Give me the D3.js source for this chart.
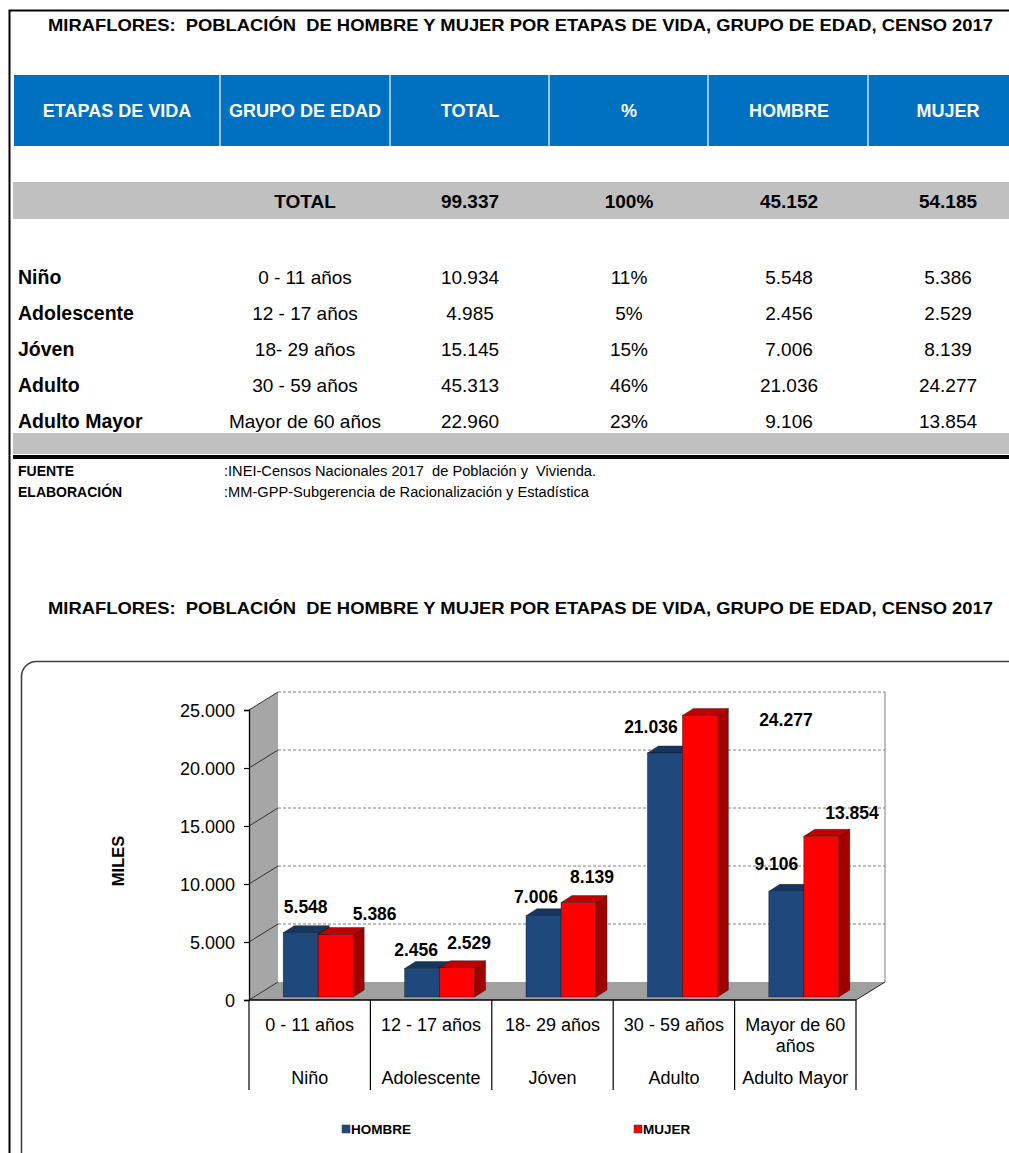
<!DOCTYPE html>
<html><head><meta charset="utf-8">
<script src="https://cdn.jsdelivr.net/npm/d3@7"></script>
<style>
body{margin:0;background:#fff}
svg{display:block}
text{font-family:"Liberation Sans",Arial,Helvetica,sans-serif;white-space:pre}
</style>
</head><body>
<svg id="c" width="1009" height="1153"></svg>
<script>
// ---------------- DATA ----------------
const titulo = "MIRAFLORES:  POBLACIÓN  DE HOMBRE Y MUJER POR ETAPAS DE VIDA, GRUPO DE EDAD, CENSO 2017";
const encabezados = ["ETAPAS DE VIDA","GRUPO DE EDAD","TOTAL","%","HOMBRE","MUJER"];
const etapas = ["Niño","Adolescente","Jóven","Adulto","Adulto Mayor"];
const grupos = ["0 - 11 años","12 - 17 años","18- 29 años","30 - 59 años","Mayor de 60 años"];
const gruposEje = [["0 - 11 años"],["12 - 17 años"],["18- 29 años"],["30 - 59 años"],["Mayor de 60","años"]];
const totales = [10934,4985,15145,45313,22960];
const porcentajes = [11,5,15,46,23];
const hombre = [5548,2456,7006,21036,9106];
const mujer = [5386,2529,8139,24277,13854];
const totalGeneral = [99337,100,45152,54185];
const series = ["HOMBRE","MUJER"];
const yTicks = [0,5000,10000,15000,20000,25000];
const fuente = [["FUENTE",":INEI-Censos Nacionales 2017  de Población y  Vivienda."],
                ["ELABORACIÓN",":MM-GPP-Subgerencia de Racionalización y Estadística"]];
const ejeY = "MILES";

// ---------------- LAYOUT / STYLE ----------------
const loc = d3.formatLocale({decimal:",",thousands:".",grouping:[3],currency:["",""]});
const fmt = loc.format(",d");
const FONT = '"Liberation Sans",Arial,Helvetica,sans-serif';
const colX = [18,305,470,629,789,948];
const sepX = [220,390,549,708,868];
// manual label nudges (Excel-style data label placement), px offsets from bar top centre
const hNudge = [[5,-25.6],[-6,-18.5],[-7.5,-18.7],[-14,-26],[-10,-27.4]];
const mNudge = [[39,-20.5],[12,-24.7],[13.5,-25.6],[86,4.6],[30.7,-24]];
const colors = {
  HOMBRE:{front:"#1F497D",top:"#16365F",side:"#132C4E"},
  MUJER:{front:"#FF0000",top:"#C00000",side:"#A00000"}
};

const svg = d3.select("#c");

// page frame
svg.append("path").attr("d","M9.5 1160 V10.5 H1015").attr("fill","none").attr("stroke","#000").attr("stroke-width",2);

// title 1
svg.append("text").attr("x",520.5).attr("y",31).attr("text-anchor","middle")
  .attr("font-size",16.5).attr("font-weight","bold").attr("textLength",945).attr("lengthAdjust","spacingAndGlyphs")
  .text(titulo);

// header band
svg.append("rect").attr("x",14).attr("y",75).attr("width",1000).attr("height",71).attr("fill","#0070C0");
sepX.forEach(x=>svg.append("line").attr("x1",x).attr("x2",x).attr("y1",75).attr("y2",146).attr("stroke","#fff").attr("stroke-width",1.2));
encabezados.forEach((h,i)=>{
  svg.append("text").attr("x",i===0?117:colX[i]).attr("y",116.5).attr("text-anchor","middle")
    .attr("fill","#fff").attr("font-weight","bold").attr("font-size",18).text(h);
});

// total row
svg.append("rect").attr("x",13).attr("y",182).attr("width",1000).attr("height",37).attr("fill","#C0C0C0");
svg.append("text").attr("x",colX[1]).attr("y",207.5).attr("text-anchor","middle").attr("font-weight","bold").attr("font-size",19).text("TOTAL");
totalGeneral.forEach((v,i)=>{
  svg.append("text").attr("x",colX[i+2]).attr("y",207.5).attr("text-anchor","middle").attr("font-weight","bold").attr("font-size",19)
    .text(i===1? v+"%" : fmt(v));
});

// body rows
const rowY = d3.scalePoint().domain(etapas).range([277,421]);
etapas.forEach((e,i)=>{
  const y = rowY(e)+7;
  svg.append("text").attr("x",colX[0]).attr("y",y).attr("font-weight","bold").attr("font-size",19.5).text(e);
  const vals = [grupos[i], fmt(totales[i]), porcentajes[i]+"%", fmt(hombre[i]), fmt(mujer[i])];
  vals.forEach((v,j)=>svg.append("text").attr("x",colX[j+1]).attr("y",y).attr("text-anchor","middle").attr("font-size",19).text(v));
});
svg.append("rect").attr("x",13).attr("y",433).attr("width",1000).attr("height",21).attr("fill","#C0C0C0");
svg.append("rect").attr("x",13).attr("y",455).attr("width",1000).attr("height",4).attr("fill","#000");

// source
fuente.forEach((f,i)=>{
  const y = 475.5+i*21.5;
  svg.append("text").attr("x",18).attr("y",y).attr("font-weight","bold").attr("font-size",14).text(f[0]);
  svg.append("text").attr("x",224).attr("y",y).attr("font-size",14)
    .attr("textLength",i===0?372:365).attr("lengthAdjust","spacingAndGlyphs").text(f[1]);
});

// title 2
svg.append("text").attr("x",520.5).attr("y",614).attr("text-anchor","middle")
  .attr("font-size",16.5).attr("font-weight","bold").attr("textLength",945).attr("lengthAdjust","spacingAndGlyphs")
  .text(titulo);

// chart box
svg.append("path").attr("d","M21.5 1160 V676 A15 15 0 0 1 36.5 661.5 H1015").attr("fill","none").attr("stroke","#404040").attr("stroke-width",1.6);

// ---------------- 3D BAR CHART ----------------
const x0 = d3.scaleBand().domain(etapas).range([249,856]);
const y = d3.scaleLinear().domain([0,25000]).range([1000,710]);
const DX = 29, DY = -18;        // wall depth
const BDX = 11, BDY = -7;       // bar depth
const BW = 35, SHIFT = 8.5, SET = 3;
const xs = d3.scaleBand().domain(series).range([-BW, BW]);
const xL = x0.range()[0], xR = x0.range()[1];
const y0 = y(0), yTop = y(25000);

// back wall
svg.append("rect").attr("x",xL+DX).attr("y",yTop+DY).attr("width",xR-xL).attr("height",y0-yTop).attr("fill","#fff");
svg.append("line").attr("x1",xR+DX).attr("x2",xR+DX).attr("y1",yTop+DY).attr("y2",y0+DY).attr("stroke","#BFBFBF").attr("stroke-width",2);
// side wall
svg.append("polygon").attr("points",[[xL,y0],[xL,yTop],[xL+DX,yTop+DY],[xL+DX,y0+DY]].join(" ")).attr("fill","#A6A6A6");
// floor
svg.append("polygon").attr("points",[[xL,y0],[xR,y0],[xR+DX,y0+DY],[xL+DX,y0+DY]].join(" ")).attr("fill","#A0A0A0");
svg.append("line").attr("x1",xR).attr("y1",y0).attr("x2",xR+DX).attr("y2",y0+DY).attr("stroke","#222").attr("stroke-width",1);
// gridlines
yTicks.filter(t=>t>0).forEach(t=>{
  svg.append("line").attr("x1",xL+DX).attr("x2",xR+DX).attr("y1",y(t)+DY).attr("y2",y(t)+DY)
    .attr("stroke","#7F7F7F").attr("stroke-width",1).attr("stroke-dasharray","3,2");
});
yTicks.forEach(t=>{
  svg.append("line").attr("x1",xL).attr("y1",y(t)).attr("x2",xL+DX).attr("y2",y(t)+DY).attr("stroke","#333").attr("stroke-width",1);
});

// y axis
const yAxis = d3.axisLeft(y).tickValues(yTicks).tickSize(5).tickPadding(9).tickFormat(d=>fmt(d));
const gy = svg.append("g").attr("transform",`translate(${xL},0)`).call(yAxis);
gy.select(".domain").attr("stroke","#000").attr("stroke-width",1.3);
gy.selectAll(".tick line").attr("stroke","#000").attr("stroke-width",1.2);
gy.selectAll("text").attr("font-family",FONT).attr("font-size",18).attr("fill","#000").attr("dy","0.35em");

// x axis line and separators
svg.append("line").attr("x1",xL).attr("x2",xR).attr("y1",y0).attr("y2",y0).attr("stroke","#000").attr("stroke-width",1.3);
etapas.forEach((e,i)=>{
  const bx = x0(e);
  svg.append("line").attr("x1",bx).attr("x2",bx).attr("y1",y0).attr("y2",1090).attr("stroke","#000").attr("stroke-width",1.2);
  if(i===etapas.length-1) svg.append("line").attr("x1",bx+x0.bandwidth()).attr("x2",bx+x0.bandwidth()).attr("y1",y0).attr("y2",1090).attr("stroke","#000").attr("stroke-width",1.2);
  const cx = bx + x0.bandwidth()/2;
  gruposEje[i].forEach((g,k)=>svg.append("text").attr("x",cx).attr("y",1031+k*21).attr("text-anchor","middle").attr("font-size",18).text(g));
  svg.append("text").attr("x",cx).attr("y",1084).attr("text-anchor","middle").attr("font-size",18).text(e);
});

// bars
const barData = [];
etapas.forEach((e,i)=>{
  series.forEach(s=>{
    const v = s==="HOMBRE"?hombre[i]:mujer[i];
    barData.push({e,i,s,v});
  });
});
const gb = svg.append("g");
barData.forEach(d=>{
  const c = colors[d.s];
  const xf = x0(d.e) + x0.bandwidth()/2 + SHIFT + xs(d.s);
  const yt = y(d.v) - SET, yb = y0 - SET;
  const g = gb.append("g").attr("stroke","#0b0b0b").attr("stroke-width",0.6).attr("stroke-opacity",0.6);
  g.append("polygon").attr("points",[[xf+BW,yb],[xf+BW,yt],[xf+BW+BDX,yt+BDY],[xf+BW+BDX,yb+BDY]].join(" ")).attr("fill",c.side);
  g.append("polygon").attr("points",[[xf,yt],[xf+BW,yt],[xf+BW+BDX,yt+BDY],[xf+BDX,yt+BDY]].join(" ")).attr("fill",c.top);
  g.append("rect").attr("x",xf).attr("y",yt).attr("width",BW).attr("height",yb-yt).attr("fill",c.front);
});

// data labels
barData.forEach(d=>{
  const xf = x0(d.e) + x0.bandwidth()/2 + SHIFT + xs(d.s);
  const yt = y(d.v) - SET;
  const n = d.s==="HOMBRE"?hNudge[d.i]:mNudge[d.i];
  svg.append("text").attr("x",xf+BW/2+n[0]).attr("y",yt+n[1]+6.3).attr("text-anchor","middle")
    .attr("font-size",17.5).attr("font-weight","bold").text(fmt(d.v));
});

// y axis title
svg.append("text").attr("transform","translate(124,861) rotate(-90)").attr("text-anchor","middle")
  .attr("font-size",16.5).attr("font-weight","bold").text(ejeY);

// legend
const legX = [342,634];
series.forEach((s,i)=>{
  svg.append("rect").attr("x",legX[i]).attr("y",1125).attr("width",8).attr("height",8).attr("fill",colors[s].front).attr("stroke","#333").attr("stroke-width",0.5);
  svg.append("text").attr("x",legX[i]+9).attr("y",1133.5).attr("font-size",13.5).attr("font-weight","bold").text(s);
});
</script>
</body></html>
